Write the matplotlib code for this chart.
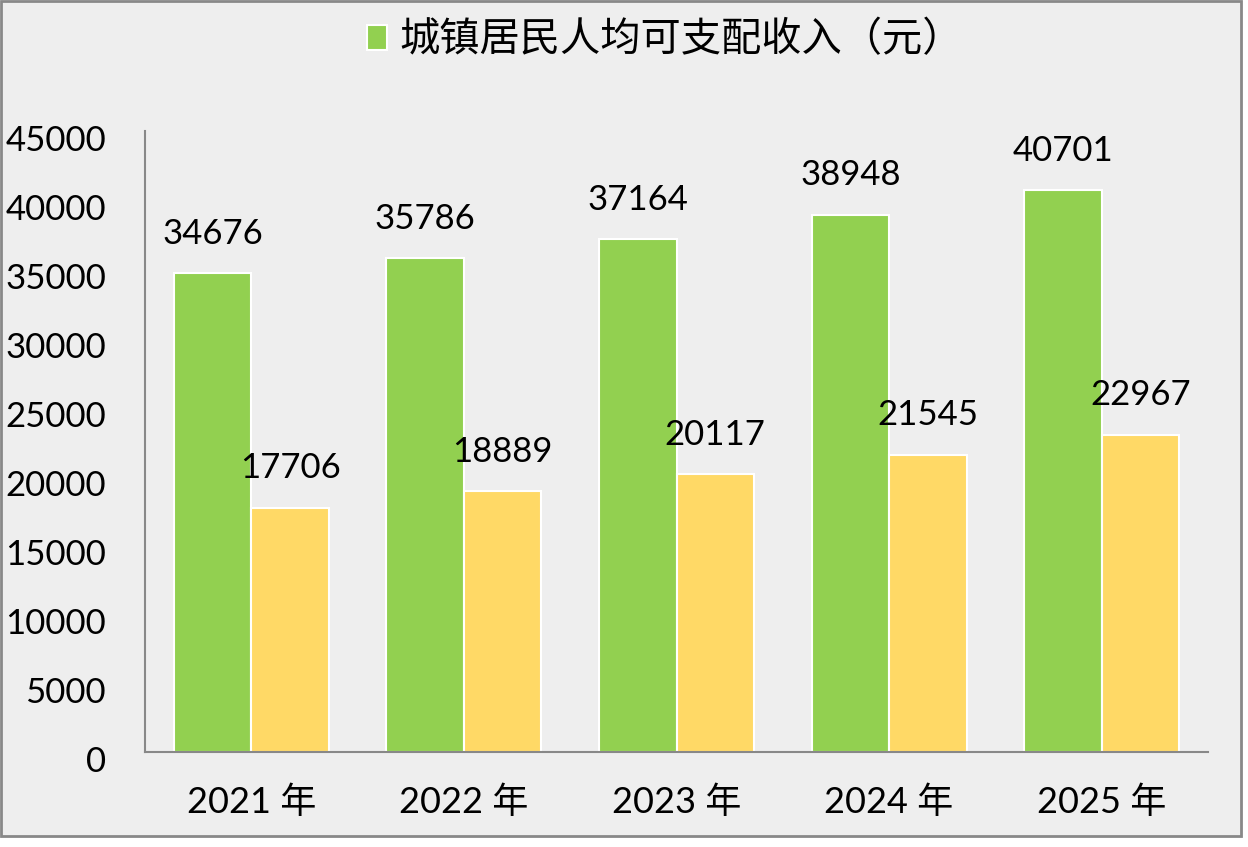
import matplotlib
matplotlib.use("Agg")
import matplotlib.pyplot as plt
import matplotlib.patches as mpatches
import matplotlib.transforms as mtransforms
import numpy as np

plt.rcParams['font.family'] = ['Lato', 'Noto Sans CJK SC', 'DejaVu Sans']

years = ["2021 年", "2022 年", "2023 年", "2024 年", "2025 年"]
urban = [34676, 35786, 37164, 38948, 40701]
rural = [17706, 18889, 20117, 21545, 22967]
legend_label = "城镇居民人均可支配收入（元）"
yticks = [0, 5000, 10000, 15000, 20000, 25000, 30000, 35000, 40000, 45000]

green = "#92D050"
yellow = "#FFD966"
bg = "#EEEEEE"
spine = "#888888"

W, H = 1248, 847
fig = plt.figure(figsize=(W / 100, H / 100), dpi=100, facecolor="white")
border = mpatches.Rectangle((1 / W, 1 - 836 / H), 1240 / W, 835 / H,
                            transform=fig.transFigure, facecolor=bg,
                            edgecolor=spine, linewidth=2, zorder=-10)
fig.patches.append(border)

ax = fig.add_axes([145 / W, 1 - 752 / H, (1208 - 145) / W, (752 - 131) / H])
ax.set_zorder(1)
ax.patch.set_visible(False)

x = np.arange(len(years))
bw = 0.365
b1 = ax.bar(x - bw / 2, urban, bw, color=green, edgecolor="white", linewidth=1.5,
            label=legend_label)
b2 = ax.bar(x + bw / 2, rural, bw, color=yellow, edgecolor="white", linewidth=1.5)

for bars, vals in ((b1, urban), (b2, rural)):
    for r, v in zip(bars, vals):
        ax.annotate(f"{v}", (r.get_x() + r.get_width() / 2, v),
                    xytext=(0, 17), textcoords="offset points",
                    ha="center", va="bottom", fontsize=25)

ax.set_xlim(-0.5, len(years) - 0.5)
ax.set_ylim(0, 45000)
ax.set_yticks(yticks)
ax.set_yticklabels([str(t) for t in yticks], fontsize=25)
ax.set_xticks(x)
ax.set_xticklabels(years, fontsize=26)
ax.tick_params(axis="y", length=0, pad=28)
ax.tick_params(axis="x", length=0, pad=24)
offset = mtransforms.ScaledTranslation(0, -7 / 100, fig.dpi_scale_trans)
for lbl in ax.get_yticklabels():
    lbl.set_transform(lbl.get_transform() + offset)

for s in ("top", "right"):
    ax.spines[s].set_visible(False)
for s in ("left", "bottom"):
    ax.spines[s].set_color(spine)
    ax.spines[s].set_linewidth(1.5)

fig.legend(handles=[mpatches.Patch(facecolor=green, edgecolor="white", linewidth=1.5)],
           labels=[legend_label], loc="center", bbox_to_anchor=(665 / W, 1 - 40 / H),
           frameon=False, handlelength=0.5, handleheight=0.6,
           handletextpad=0.3, prop={'family': ['Noto Sans CJK SC'], 'size': 29})

fig.savefig("out.png", dpi=100, facecolor="white")
